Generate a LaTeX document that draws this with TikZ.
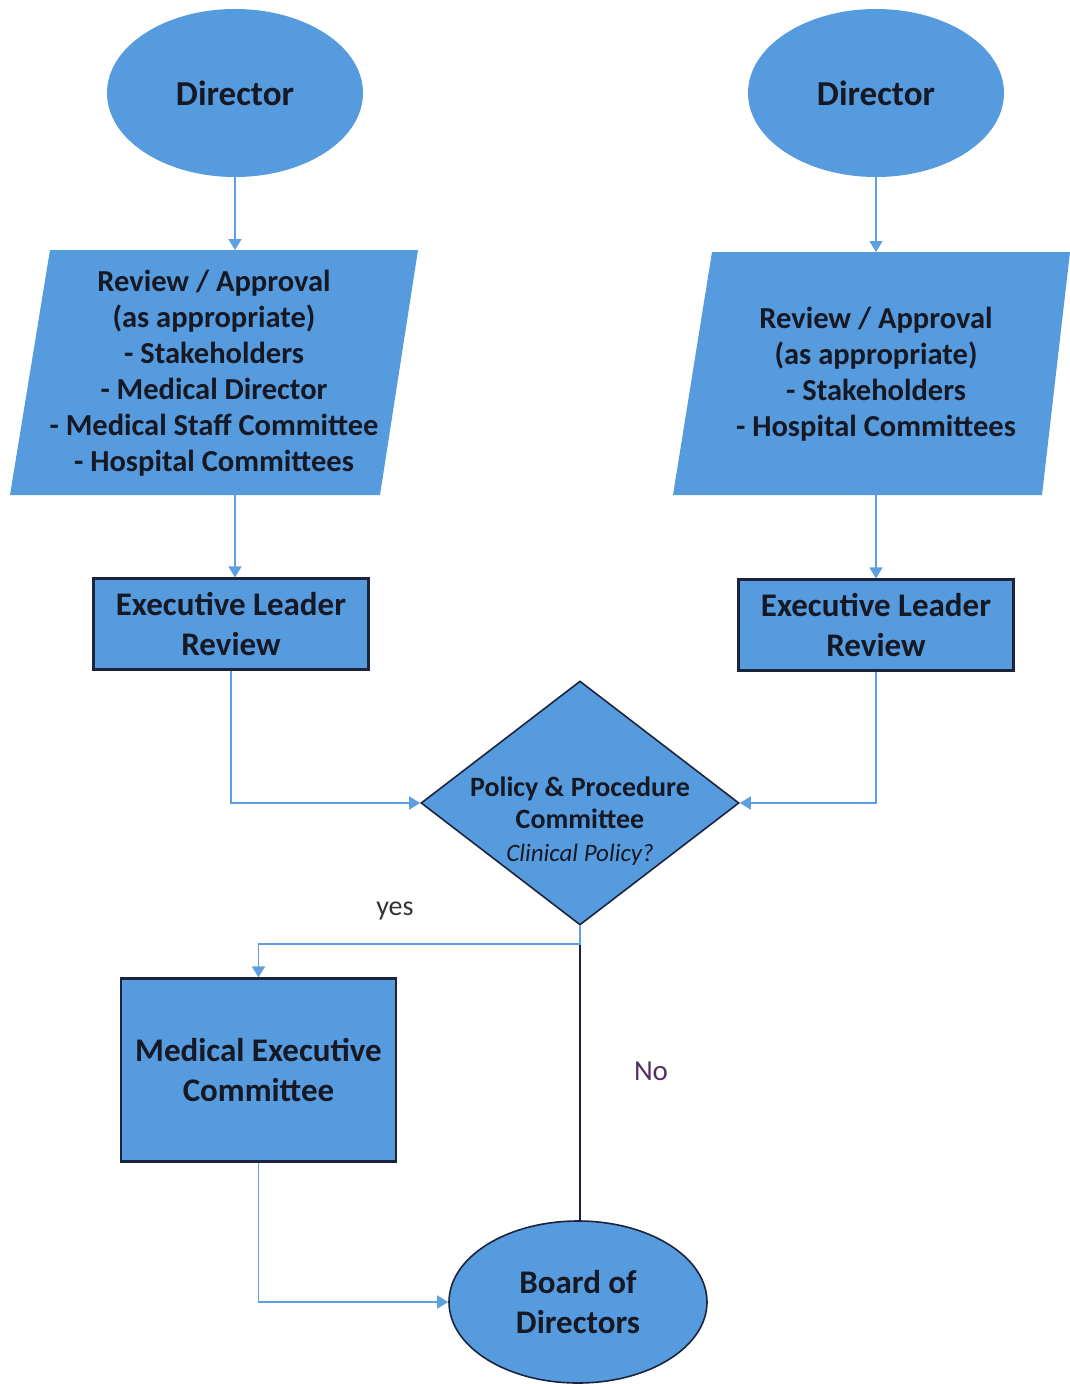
\documentclass[tikz,border=0pt]{standalone}
\usepackage{fontspec}
\setmainfont{Carlito}
\usetikzlibrary{shapes.geometric,arrows.meta}
\definecolor{boxblue}{RGB}{86,155,222}
\definecolor{linkblue}{RGB}{92,160,225}
\definecolor{edge}{RGB}{28,36,60}
\definecolor{txt}{RGB}{22,24,36}
\definecolor{nocol}{RGB}{80,48,96}
\tikzset{
  fillshape/.style={fill=boxblue},
  boxtext/.style={font=\bfseries\fontsize{33}{40}\selectfont, text=txt, align=center},
  ovalnode/.style={ellipse, fillshape, minimum width=256pt, minimum height=168pt, inner sep=0pt},
  rectnode/.style={rectangle, fillshape, draw=edge, line width=2.2pt, inner sep=0pt},
  conn/.style={draw=linkblue, line width=1.6pt, -{Triangle[width=13pt,length=11pt]}},
  darkconn/.style={draw=edge, line width=1.8pt},
}
\begin{document}
\begin{tikzpicture}[x=1pt,y=-1pt]
\useasboundingbox (0,0) rectangle (1070,1384);
% Directors
\node[ovalnode, boxtext, font=\bfseries\fontsize{35}{40}\selectfont] (d1) at (235,93) {Director};
\node[ovalnode, boxtext, font=\bfseries\fontsize{35}{40}\selectfont] (d2) at (876,93) {Director};
% Parallelograms
\fill[fillshape] (50,250) -- (418,250) -- (380,495) -- (10,495) -- cycle;
\fill[fillshape] (712,252) -- (1070,252) -- (1042,495) -- (673,495) -- cycle;
\coordinate (p1t) at (235,250);
\coordinate (p1b) at (235,495);
\coordinate (p2t) at (876,252);
\coordinate (p2b) at (876,495);
\node[boxtext, font=\bfseries\fontsize{30.5}{36}\selectfont] (p1) at (214,373)
  {Review / Approval\\(as appropriate)\\- Stakeholders\\- Medical Director\\- Medical Staff Committee\\- Hospital Committees};
\node[boxtext, font=\bfseries\fontsize{30.5}{36}\selectfont] (p2) at (876,374)
  {Review / Approval\\(as appropriate)\\- Stakeholders\\- Hospital Committees};
% Executive leader boxes
\node[rectnode, boxtext, minimum width=275pt, minimum height=91pt] (e1) at (231,624) {Executive Leader\\Review};
\node[rectnode, boxtext, minimum width=275pt, minimum height=91pt] (e2) at (876,625) {Executive Leader\\Review};
% Diamond
\node[diamond, fillshape, draw=edge, line width=1.6pt, minimum width=318pt, minimum height=244pt, inner sep=0pt] (dia) at (580,803) {};
\node[align=center, text=txt, font=\bfseries\fontsize{28}{32}\selectfont] (diatext) at (580,821)
  {Policy \& Procedure\\Committee\\[1pt]{\mdseries\itshape\fontsize{25}{27}\selectfont Clinical Policy?}};
% MEC
\node[rectnode, boxtext, minimum width=275pt, minimum height=183pt] (mec) at (258.5,1070) {Medical Executive\\Committee};
% Board
\node[ellipse, fillshape, draw=edge, line width=1.6pt, minimum width=258pt, minimum height=162pt, inner sep=0pt, boxtext] (bod) at (578,1302) {Board of\\Directors};
% Connectors
\draw[conn] (d1.south) -- (p1t);
\draw[conn] (d2.south) -- (p2t);
\draw[conn] (p1b) -- (p1b |- e1.north);
\draw[conn] (p2b) -- (p2b |- e2.north);
\draw[conn] (e1.south) |- (dia.west);
\draw[conn] (e2.south) |- (dia.east);
\draw[darkconn] (dia.south) -- (dia.south |- bod.north);
\draw[conn] (dia.south) -- ++(0,18) -| (mec.north);
\draw[conn] (mec.south) |- (bod.west);
% Labels
\node[font=\fontsize{28}{30}\selectfont, text=black!80] (yes) at (395,911) {yes};
\node[font=\fontsize{29}{32}\selectfont, text=nocol] (no) at (651,1071) {No};
\end{tikzpicture}
\end{document}
